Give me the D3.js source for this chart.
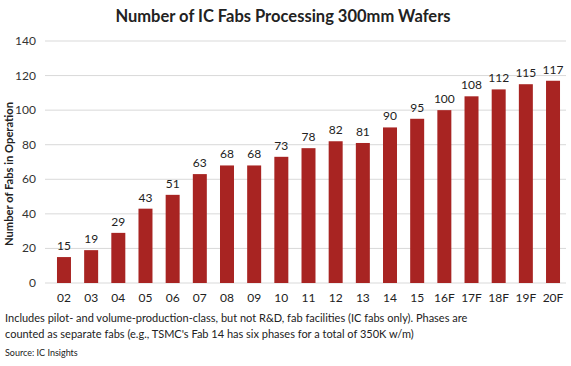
<!DOCTYPE html>
<html><head><meta charset="utf-8">
<script src="https://cdn.jsdelivr.net/npm/d3@7/dist/d3.min.js"></script>
<style>body{margin:0;background:#fff;} text{font-family:Lato,"Open Sans",sans-serif;}</style>
</head><body>
<svg id="c" width="571" height="366"></svg>
<script>
const categories = ["02","03","04","05","06","07","08","09","10","11","12","13","14","15","16F","17F","18F","19F","20F"];
const values = [15,19,29,43,51,63,68,68,73,78,82,81,90,95,100,108,112,115,117];
const yTicks = [0,20,40,60,80,100,120,140];

const svg = d3.select("#c");
const x = d3.scaleBand().domain(categories).range([50,567]).paddingInner(0.485).paddingOuter(0.257);
const y = d3.scaleLinear().domain([0,140]).range([283,41]);

// gridlines
svg.append("g").selectAll("line").data(yTicks).join("line")
  .attr("x1",45).attr("x2",566).attr("y1",d=>y(d)).attr("y2",d=>y(d))
  .attr("stroke","#d9d9d9").attr("stroke-width",1);

// y tick labels
svg.append("g").selectAll("text").data(yTicks).join("text")
  .attr("x",36).attr("y",d=>y(d)+4).attr("text-anchor","end")
  .attr("font-size",12).attr("fill","#333").text(d=>d);

// bars
svg.append("g").selectAll("rect").data(values).join("rect")
  .attr("x",(d,i)=>x(categories[i])).attr("width",x.bandwidth())
  .attr("y",d=>y(d)).attr("height",d=>y(0)-y(d)).attr("fill","#a82422");

// value labels
svg.append("g").selectAll("text").data(values).join("text")
  .attr("x",(d,i)=>x(categories[i])+x.bandwidth()/2).attr("y",d=>y(d)-7)
  .attr("text-anchor","middle").attr("font-size",12).attr("fill","#222").text(d=>d);

// x labels
svg.append("g").selectAll("text").data(categories).join("text")
  .attr("x",d=>x(d)+x.bandwidth()/2).attr("y",302)
  .attr("text-anchor","middle").attr("font-size",12).attr("fill","#222").text(d=>d);

// title
svg.append("text").attr("x",283).attr("y",22).attr("text-anchor","middle")
  .attr("font-size",16.5).attr("font-weight","bold").attr("fill","#222")
  .text("Number of IC Fabs Processing 300mm Wafers");

// y axis title
svg.append("text").attr("transform","translate(13,174) rotate(-90)").attr("text-anchor","middle")
  .attr("font-size",11.2).attr("font-weight","bold").attr("fill","#222")
  .text("Number of Fabs in Operation");

// footnotes
svg.append("text").attr("x",5).attr("y",322).attr("font-size",11).attr("fill","#222")
  .text("Includes pilot- and volume-production-class, but not R&D, fab facilities (IC fabs only).  Phases are");
svg.append("text").attr("x",5).attr("y",338).attr("font-size",11).attr("fill","#222")
  .text("counted as separate fabs (e.g., TSMC's  Fab 14 has six phases for a total of 350K w/m)");
svg.append("text").attr("x",5).attr("y",356).attr("font-size",9).attr("fill","#222")
  .text("Source:  IC Insights");
</script>
</body></html>
